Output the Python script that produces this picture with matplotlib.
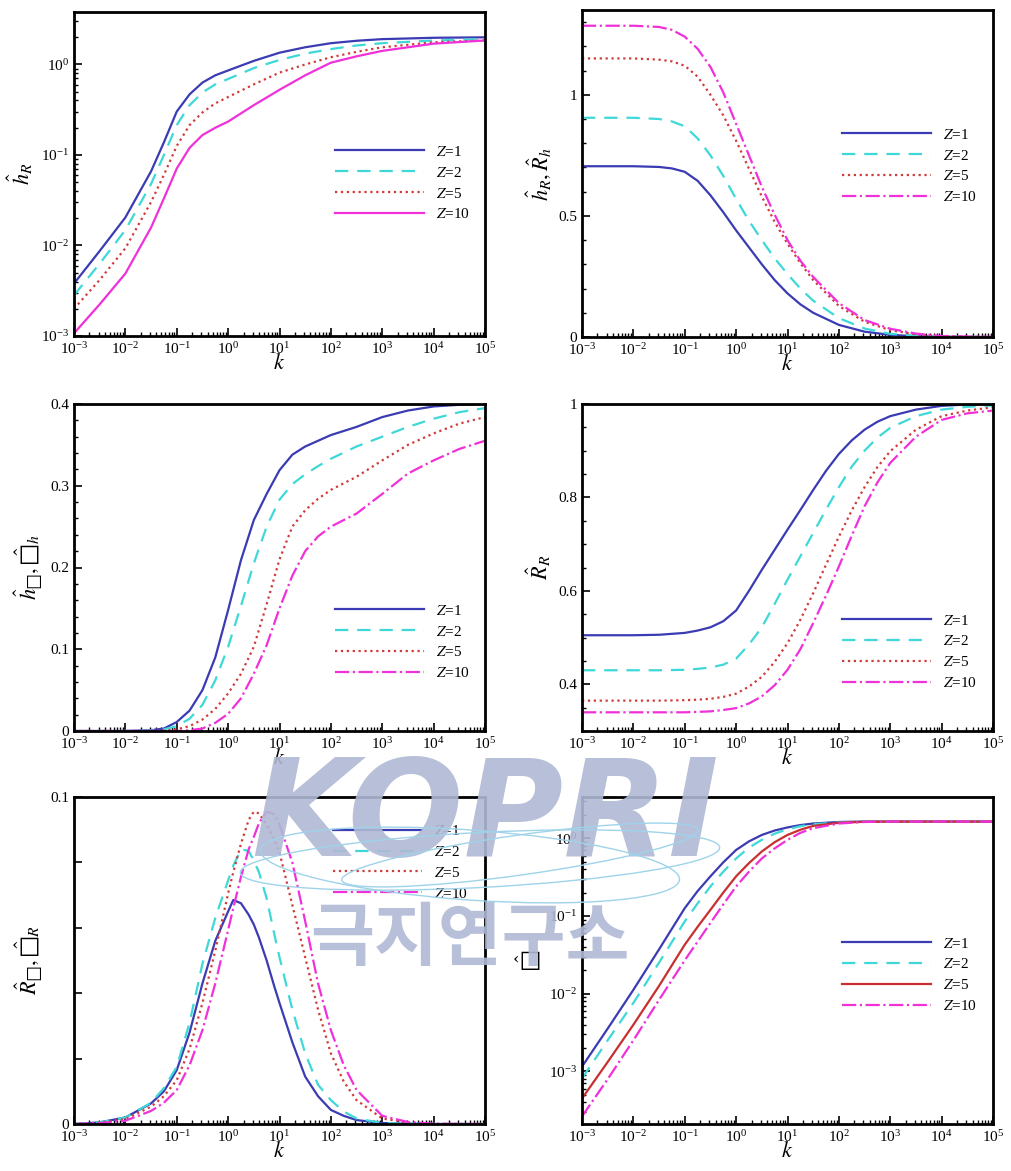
import numpy as np
import matplotlib
matplotlib.use("Agg")
import matplotlib.pyplot as plt
from matplotlib.ticker import LogLocator, LogFormatterSciNotation, MultipleLocator, FixedLocator, FixedFormatter, NullFormatter
from matplotlib.patches import Ellipse
from matplotlib.transforms import IdentityTransform

plt.rcParams['font.family'] = ['Liberation Serif', 'DejaVu Serif']
plt.rcParams['mathtext.fontset'] = 'stix'

labels = ['$Z$=1', '$Z$=2', '$Z$=5', '$Z$=10']
colors = ['#3b3bb3', '#3fd8d8', '#d23a3a', '#f030d8']

# panel a: h_R (log-log), k given as log10 exponents
ka = [-3, -2.5, -2, -1.5, -1.25, -1, -0.75, -0.5, -0.25, 0, 0.5, 1, 1.5, 2, 2.5, 3, 4, 5]
ha1 = [0.0038, 0.0087, 0.0204, 0.066, 0.138, 0.302, 0.468, 0.631, 0.759, 0.859, 1.096, 1.349, 1.549, 1.718, 1.828, 1.905, 1.972, 1.995]
ha2 = [0.00282, 0.00631, 0.0148, 0.0479, 0.100, 0.214, 0.355, 0.49, 0.603, 0.692, 0.912, 1.122, 1.318, 1.479, 1.622, 1.718, 1.841, 1.905]
ha5 = [0.0020, 0.00417, 0.00933, 0.0302, 0.0603, 0.126, 0.214, 0.295, 0.372, 0.437, 0.603, 0.813, 1.0, 1.202, 1.380, 1.549, 1.758, 1.841]
ha10 = [0.00107, 0.00224, 0.0049, 0.0158, 0.0331, 0.0708, 0.120, 0.166, 0.20, 0.234, 0.355, 0.525, 0.759, 1.047, 1.23, 1.413, 1.698, 1.841]

# panel b: h_R, R_h
kb = [-3, -2, -1.5, -1.25, -1, -0.75, -0.5, -0.25, 0, 0.25, 0.5, 0.75, 1, 1.25, 1.5, 2, 2.5, 3, 3.5, 4, 5]
hb1 = [0.705, 0.705, 0.702, 0.696, 0.682, 0.645, 0.585, 0.515, 0.44, 0.37, 0.30, 0.235, 0.18, 0.135, 0.10, 0.05, 0.022, 0.009, 0.003, 0.001, 0.0]
hb2 = [0.905, 0.905, 0.90, 0.89, 0.87, 0.82, 0.75, 0.665, 0.57, 0.48, 0.40, 0.325, 0.26, 0.20, 0.15, 0.078, 0.035, 0.013, 0.005, 0.001, 0.0]
hb5 = [1.15, 1.15, 1.145, 1.138, 1.12, 1.075, 1.0, 0.915, 0.81, 0.695, 0.58, 0.475, 0.385, 0.305, 0.235, 0.128, 0.063, 0.028, 0.011, 0.003, 0.0]
hb10 = [1.285, 1.285, 1.28, 1.268, 1.24, 1.19, 1.115, 1.01, 0.88, 0.75, 0.62, 0.505, 0.40, 0.315, 0.248, 0.14, 0.07, 0.034, 0.014, 0.004, 0.0]

# panel c
kc = [-3, -2, -1.5, -1.25, -1, -0.75, -0.5, -0.25, 0, 0.25, 0.5, 0.75, 1, 1.25, 1.5, 1.75, 2, 2.5, 3, 3.5, 4, 4.5, 5]
hc1 = [0, 0, 0.001, 0.003, 0.011, 0.025, 0.05, 0.09, 0.148, 0.209, 0.258, 0.29, 0.319, 0.338, 0.348, 0.355, 0.362, 0.372, 0.384, 0.392, 0.397, 0.399, 0.4]
hc2 = [0, 0, 0.0005, 0.002, 0.006, 0.015, 0.032, 0.062, 0.103, 0.153, 0.205, 0.25, 0.283, 0.302, 0.314, 0.324, 0.333, 0.348, 0.36, 0.372, 0.382, 0.39, 0.395]
hc5 = [0, 0, 0, 0.0005, 0.002, 0.006, 0.014, 0.027, 0.046, 0.07, 0.103, 0.155, 0.21, 0.25, 0.27, 0.284, 0.295, 0.311, 0.331, 0.35, 0.364, 0.376, 0.384]
hc10 = [0, 0, 0, 0, 0, 0.001, 0.003, 0.01, 0.021, 0.04, 0.07, 0.105, 0.15, 0.19, 0.22, 0.238, 0.25, 0.266, 0.29, 0.315, 0.331, 0.345, 0.355]

# panel d: R_R
kd = [-3, -2, -1.5, -1, -0.75, -0.5, -0.25, 0, 0.25, 0.5, 0.75, 1, 1.25, 1.5, 1.75, 2, 2.25, 2.5, 2.75, 3, 3.5, 4, 4.5, 5]
rd1 = [0.505, 0.505, 0.506, 0.51, 0.515, 0.522, 0.535, 0.558, 0.60, 0.645, 0.688, 0.731, 0.773, 0.816, 0.857, 0.893, 0.922, 0.945, 0.962, 0.974, 0.988, 0.996, 0.999, 1.0]
rd2 = [0.43, 0.43, 0.43, 0.431, 0.433, 0.436, 0.442, 0.455, 0.485, 0.522, 0.572, 0.624, 0.674, 0.724, 0.774, 0.822, 0.866, 0.90, 0.928, 0.949, 0.974, 0.988, 0.994, 0.997]
rd5 = [0.365, 0.365, 0.365, 0.366, 0.367, 0.369, 0.373, 0.38, 0.395, 0.416, 0.448, 0.488, 0.538, 0.595, 0.656, 0.716, 0.772, 0.822, 0.865, 0.899, 0.945, 0.974, 0.986, 0.993]
rd10 = [0.34, 0.34, 0.34, 0.34, 0.341, 0.342, 0.345, 0.349, 0.359, 0.374, 0.398, 0.431, 0.475, 0.531, 0.59, 0.652, 0.718, 0.781, 0.832, 0.874, 0.93, 0.966, 0.98, 0.986]

# panel e
ke = [-3, -2.5, -2, -1.5, -1.25, -1, -0.75, -0.5, -0.25, 0, 0.1, 0.25, 0.4, 0.5, 0.6, 0.75, 0.9, 1, 1.25, 1.5, 1.75, 2, 2.25, 2.5, 3, 3.5, 4, 5]
re1 = [0, 0.0005, 0.002, 0.0063, 0.010, 0.0165, 0.028, 0.043, 0.056, 0.065, 0.0685, 0.0675, 0.064, 0.061, 0.057, 0.05, 0.042, 0.037, 0.025, 0.0145, 0.0085, 0.0043, 0.0025, 0.0012, 0.0003, 0.0001, 0, 0]
re2 = [0, 0.0005, 0.002, 0.0065, 0.011, 0.0175, 0.031, 0.049, 0.063, 0.0745, 0.079, 0.084, 0.0835, 0.0806, 0.077, 0.069, 0.058, 0.051, 0.035, 0.0216, 0.012, 0.0073, 0.0038, 0.0017, 0.0003, 0.0001, 0, 0]
re5 = [0, 0.0004, 0.0015, 0.0053, 0.0085, 0.0134, 0.023, 0.037, 0.053, 0.0705, 0.077, 0.0857, 0.093, 0.0955, 0.095, 0.0915, 0.087, 0.083, 0.067, 0.051, 0.035, 0.0216, 0.013, 0.0073, 0.0017, 0.0004, 0, 0]
re10 = [0, 0.0003, 0.001, 0.004, 0.0065, 0.0104, 0.018, 0.0287, 0.043, 0.0593, 0.066, 0.0756, 0.084, 0.0878, 0.092, 0.0955, 0.0948, 0.0915, 0.08, 0.062, 0.043, 0.0287, 0.018, 0.0104, 0.0025, 0.0006, 0.0001, 0]

# panel f (log-log)
kf = [-3, -2.5, -2, -1.5, -1, -0.75, -0.5, -0.25, 0, 0.25, 0.5, 0.75, 1, 1.25, 1.5, 2, 2.5, 3, 4, 5]
sf1 = [0.00115, 0.00355, 0.0112, 0.0372, 0.126, 0.209, 0.324, 0.49, 0.708, 0.912, 1.104, 1.259, 1.38, 1.479, 1.549, 1.622, 1.641, 1.641, 1.641, 1.641]
sf2 = [0.00081, 0.00251, 0.00759, 0.0251, 0.0851, 0.145, 0.24, 0.372, 0.55, 0.759, 0.955, 1.148, 1.306, 1.429, 1.514, 1.603, 1.633, 1.641, 1.641, 1.641]
sf5 = [0.000447, 0.00132, 0.00398, 0.0126, 0.0427, 0.0724, 0.12, 0.20, 0.324, 0.479, 0.676, 0.891, 1.104, 1.288, 1.442, 1.585, 1.633, 1.641, 1.641, 1.641]
sf10 = [0.000263, 0.000794, 0.00251, 0.00832, 0.0269, 0.0468, 0.0813, 0.141, 0.24, 0.372, 0.55, 0.741, 0.955, 1.175, 1.349, 1.549, 1.622, 1.641, 1.641, 1.641]

fig = plt.figure(figsize=(10.11, 11.71), dpi=100)
W, H = 1011, 1171


def make_ax(x0, y0, x1, y1):
    return fig.add_axes([x0 / W, 1 - y1 / H, (x1 - x0) / W, (y1 - y0) / H])


def style(ax, ylabel):
    ax.set_xscale('log')
    ax.set_xlim(1e-3, 1e5)
    ax.xaxis.set_major_locator(LogLocator(base=10, numticks=20))
    ax.xaxis.set_minor_locator(LogLocator(base=10, subs=np.arange(2, 10), numticks=200))
    ax.xaxis.set_minor_formatter(NullFormatter())
    ax.tick_params(which='both', direction='in', top=False, right=False, labelsize=11)
    ax.tick_params(which='major', length=6, width=1.2)
    ax.tick_params(which='minor', length=3, width=1)
    for s in ax.spines.values():
        s.set_linewidth(2)
    ax.set_xlabel('$k$', fontsize=16, labelpad=-2)
    ax.set_ylabel(ylabel, fontsize=16)


def legend(ax, x, y):
    ax.legend(loc='center left', bbox_to_anchor=(x, y), frameon=False, fontsize=11,
              handlelength=5.8, handletextpad=0.8, labelspacing=0.45,
              borderpad=0, borderaxespad=0)


lw = 1.6
dash = (0, (6, 4))

# a
ax = make_ax(74, 12, 485, 336)
k = 10.0 ** np.array(ka)
ax.plot(k, ha1, color=colors[0], lw=lw, label=labels[0])
ax.plot(k, ha2, color=colors[1], lw=lw, ls=dash, label=labels[1])
ax.plot(k, ha5, color=colors[2], lw=lw, ls=':', label=labels[2])
ax.plot(k, ha10, color=colors[3], lw=lw, label=labels[3])
ax.set_yscale('log')
ax.set_ylim(1e-3, 3.8)
style(ax, r'$\hat{h}_R$')
legend(ax, 0.635, 0.472)

# b
ax = make_ax(582, 10, 993, 337)
k = 10.0 ** np.array(kb)
ax.plot(k, hb1, color=colors[0], lw=lw, label=labels[0])
ax.plot(k, hb2, color=colors[1], lw=lw, ls=dash, label=labels[1])
ax.plot(k, hb5, color=colors[2], lw=lw, ls=':', label=labels[2])
ax.plot(k, hb10, color=colors[3], lw=lw, ls='-.', label=labels[3])
ax.set_ylim(0, 1.35)
ax.yaxis.set_major_locator(FixedLocator([0, 0.5, 1]))
ax.yaxis.set_major_formatter(FixedFormatter(['0', '0.5', '1']))
ax.yaxis.set_minor_locator(MultipleLocator(0.1))
style(ax, r'$\hat{h}_R,\hat{R}_h$')
legend(ax, 0.633, 0.523)

# c
ax = make_ax(74, 404, 485, 731)
k = 10.0 ** np.array(kc)
ax.plot(k, hc1, color=colors[0], lw=lw, label=labels[0])
ax.plot(k, hc2, color=colors[1], lw=lw, ls=dash, label=labels[1])
ax.plot(k, hc5, color=colors[2], lw=lw, ls=':', label=labels[2])
ax.plot(k, hc10, color=colors[3], lw=lw, ls='-.', label=labels[3])
ax.set_ylim(0, 0.4)
ax.yaxis.set_major_locator(FixedLocator([0, 0.1, 0.2, 0.3, 0.4]))
ax.yaxis.set_major_formatter(FixedFormatter(['0', '0.1', '0.2', '0.3', '0.4']))
ax.yaxis.set_minor_locator(MultipleLocator(0.02))
style(ax, r'$\hat{h}_{□},\hat{□}_h$')
legend(ax, 0.635, 0.272)

# d
ax = make_ax(582, 404, 993, 731)
k = 10.0 ** np.array(kd)
ax.plot(k, rd1, color=colors[0], lw=lw, label=labels[0])
ax.plot(k, rd2, color=colors[1], lw=lw, ls=dash, label=labels[1])
ax.plot(k, rd5, color=colors[2], lw=lw, ls=':', label=labels[2])
ax.plot(k, rd10, color=colors[3], lw=lw, ls='-.', label=labels[3])
ax.set_ylim(0.3, 1.0)
ax.yaxis.set_major_locator(FixedLocator([0.4, 0.6, 0.8, 1.0]))
ax.yaxis.set_major_formatter(FixedFormatter(['0.4', '0.6', '0.8', '1']))
ax.yaxis.set_minor_locator(MultipleLocator(0.05))
style(ax, r'$\hat{R}_R$')
legend(ax, 0.633, 0.242)

# e
ax = make_ax(74, 797, 485, 1124)
k = 10.0 ** np.array(ke)
ax.plot(k, re1, color=colors[0], lw=lw, label=labels[0])
ax.plot(k, re2, color=colors[1], lw=lw, ls=dash, label=labels[1])
ax.plot(k, re5, color=colors[2], lw=lw, ls=':', label=labels[2])
ax.plot(k, re10, color=colors[3], lw=lw, ls='-.', label=labels[3])
ax.set_ylim(0, 0.1)
ax.yaxis.set_major_locator(FixedLocator([0, 0.02, 0.04, 0.06, 0.08, 0.1]))
ax.yaxis.set_major_formatter(FixedFormatter(['0', '', '', '', '', '0.1']))
style(ax, r'$\hat{R}_{□},\hat{□}_R$')
legend(ax, 0.63, 0.80)

# f
ax = make_ax(582, 797, 993, 1124)
k = 10.0 ** np.array(kf)
ax.plot(k, sf1, color=colors[0], lw=lw, label=labels[0])
ax.plot(k, sf2, color=colors[1], lw=lw, ls=dash, label=labels[1])
ax.plot(k, sf5, color='#c83030', lw=lw, label=labels[2])
ax.plot(k, sf10, color=colors[3], lw=lw, ls='-.', label=labels[3])
ax.set_yscale('log')
ax.set_ylim(2.1e-4, 3.4)
ax.yaxis.set_major_locator(FixedLocator([1e-3, 1e-2, 1e-1, 1]))
ax.yaxis.set_major_formatter(LogFormatterSciNotation())
ax.yaxis.set_minor_locator(LogLocator(base=10, subs=np.arange(2, 10), numticks=50))
ax.yaxis.set_minor_formatter(NullFormatter())
style(ax, r'$\hat{□}$')
legend(ax, 0.633, 0.456)

# watermark
wm = '#b0b9d4'
fig.text(485 / W, 1 - 818 / H, 'KOPRI', ha='center', va='center', fontsize=98,
         family='DejaVu Sans', fontweight='heavy', style='italic', color=wm, alpha=0.9, zorder=20)
fig.text(470 / W, 1 - 940 / H, '극지연구소', ha='center', va='center', fontsize=50,
         family='Noto Sans CJK KR', fontweight='bold', color=wm, alpha=0.9, zorder=20)
for cx, cy, w, h, ang in [(480, 1171 - 860, 480, 55, 3), (470, 1171 - 865, 420, 70, -4), (520, 1171 - 855, 360, 40, 8)]:
    fig.add_artist(Ellipse((cx, cy), w, h, angle=ang, fill=False, ec='#9fd3ea', lw=1.0,
                           transform=IdentityTransform(), zorder=21))

fig.savefig('out.png', dpi=100)
